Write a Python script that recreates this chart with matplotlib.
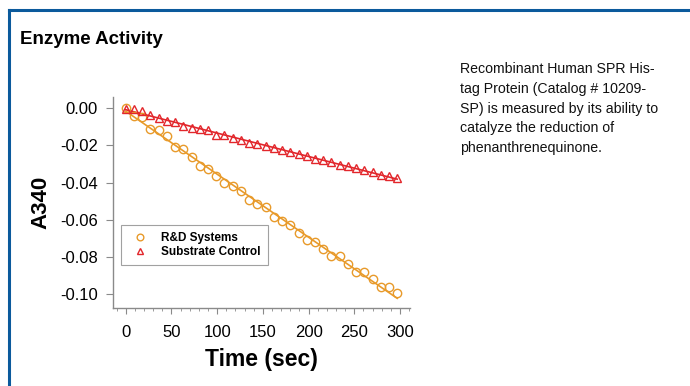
import numpy as np
import matplotlib.pyplot as plt
from matplotlib.lines import Line2D

plt.rcParams['font.family'] = ['Liberation Sans', 'DejaVu Sans']

# Time points (sec), readings every 9 s
time = np.arange(0, 298, 9)

# A340 readings
rd_systems = [0.0000, -0.0041, -0.0047, -0.0113, -0.0115, -0.0149, -0.0208, -0.0220,
              -0.0262, -0.0310, -0.0328, -0.0364, -0.0405, -0.0418, -0.0443, -0.0495,
              -0.0513, -0.0530, -0.0584, -0.0608, -0.0626, -0.0670, -0.0710, -0.0719,
              -0.0760, -0.0796, -0.0796, -0.0839, -0.0880, -0.0880, -0.0921, -0.0961,
              -0.0964, -0.0996]
substrate_control = [-0.0002, -0.0002, -0.0016, -0.0038, -0.0052, -0.0070, -0.0077, -0.0095,
                     -0.0109, -0.0113, -0.0120, -0.0145, -0.0145, -0.0160, -0.0172, -0.0185,
                     -0.0195, -0.0203, -0.0213, -0.0226, -0.0238, -0.0247, -0.0256, -0.0271,
                     -0.0278, -0.0289, -0.0306, -0.0310, -0.0324, -0.0335, -0.0342, -0.0357,
                     -0.0364, -0.0378]

orange = '#E89A2A'
red = '#E2262B'
gray = '#8A8A8A'

fig = plt.figure(figsize=(6.9, 3.86), dpi=100)

# blue frame around the panel (top and left edges)
fig.add_artist(Line2D([9 / 690, 1.0], [1 - 10 / 386, 1 - 10 / 386], color='#0B5A9C', lw=2.2,
                      transform=fig.transFigure))
fig.add_artist(Line2D([9 / 690, 9 / 690], [0.0, 1 - 10 / 386], color='#0B5A9C', lw=2.2,
                      transform=fig.transFigure))

fig.text(20 / 690, 1 - 40 / 386, 'Enzyme Activity', fontsize=13.5, fontweight='bold',
         va='center', ha='left')

fig.text(460 / 690, 1 - 62 / 386,
         'Recombinant Human SPR His-\ntag Protein (Catalog # 10209-\nSP) is measured by its ability to\n'
         'catalyze the reduction of\nphenanthrenequinone.',
         fontsize=10.2, va='top', ha='left', linespacing=1.53, color='#111111')

ax = fig.add_axes([113 / 690, 78 / 386, 297 / 690, 211 / 386])

# fitted lines
for y, c in [(rd_systems, orange), (substrate_control, red)]:
    k, b = np.polyfit(time, y, 1)
    ax.plot(time, k * time + b, color=c, lw=1.2, zorder=2)

ax.plot(time, rd_systems, 'o', mfc='none', mec=orange, ms=6, mew=1.0, zorder=3,
        label='R&D Systems')
ax.plot(time, substrate_control, '^', mfc='none', mec=red, ms=5.5, mew=1.0, zorder=3,
        label='Substrate Control')

ax.set_xlim(-14, 311)
ax.set_ylim(-0.1075, 0.006)
ax.set_xticks(np.arange(0, 301, 50))
ax.set_xticks(np.arange(-10, 311, 10), minor=True)
ax.set_yticks(np.arange(-0.10, 0.001, 0.02))
ax.set_yticklabels([f'{v:.2f}' for v in np.arange(-0.10, 0.001, 0.02)])

for s in ['top', 'right']:
    ax.spines[s].set_visible(False)
for s in ['left', 'bottom']:
    ax.spines[s].set_color(gray)
    ax.spines[s].set_linewidth(1.0)
ax.tick_params(axis='both', which='major', direction='out', color=gray, labelsize=12,
               length=5, pad=6)
ax.tick_params(axis='x', which='minor', direction='out', color=gray, length=2.5)
ax.tick_params(axis='x', which='major', length=4, pad=8)

ax.set_xlabel('Time (sec)', fontsize=16.5, fontweight='bold', labelpad=6)
ax.set_ylabel('A340', fontsize=16, fontweight='bold', labelpad=6)

leg = ax.legend(loc='upper left', bbox_to_anchor=(0.027, 0.393), borderaxespad=0,
                frameon=True, fancybox=False, edgecolor=gray, handlelength=2.0,
                handletextpad=0.8, labelspacing=0.15, borderpad=0.6,
                prop={'weight': 'bold', 'size': 8.5}, markerscale=0.8)
leg.get_frame().set_linewidth(0.8)

fig.savefig('out.png', dpi=100)
